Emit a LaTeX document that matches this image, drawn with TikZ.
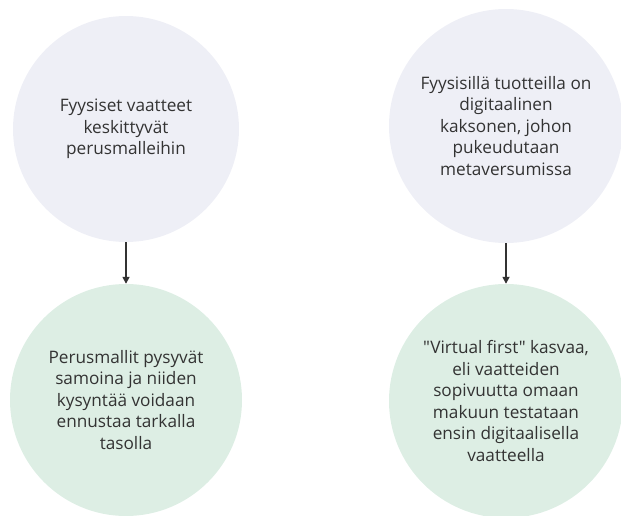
\documentclass[tikz,border=0pt]{standalone}
\usepackage{fontspec}
\setmainfont{Open Sans}[Ligatures=TeXOff]
\usepackage{tikz}
\usetikzlibrary{arrows.meta, positioning}

\definecolor{topfill}{HTML}{EEEFF6}
\definecolor{lowfill}{HTML}{DDEEE4}
\definecolor{inkgray}{HTML}{333333}

\begin{document}
\begin{tikzpicture}[x=1pt, y=-1pt,
    bubble/.style={circle, inner sep=0pt, align=center, text=inkgray,
                   font=\fontsize{17.2}{21.5}\selectfont},
    topbubble/.style={bubble, fill=topfill},
    lowbubble/.style={bubble, fill=lowfill},
    flow/.style={-{Triangle[length=7pt, width=7pt]}, line width=1.6pt, draw=inkgray}]
        \useasboundingbox (0,0) rectangle (621,516);

        % Left column
        \node[topbubble, minimum size=226pt] (fysiset) at (126,129)
            {Fyysiset vaatteet\\keskittyvät\\perusmalleihin};
        \node[lowbubble, minimum size=232pt] (perusmallit) at (126,400)
            {Perusmallit pysyvät\\samoina ja niiden\\kysyntää voidaan\\ennustaa tarkalla\\tasolla};
        \draw[flow] (fysiset) -- (perusmallit);

        % Right column
        \node[topbubble, minimum size=234pt] (kaksonen) at (506,126)
            {Fyysisillä tuotteilla on\\digitaalinen\\kaksonen, johon\\pukeudutaan\\metaversumissa};
        \node[lowbubble, minimum size=234pt] (virtual) at (506,401)
            {"Virtual first" kasvaa,\\eli vaatteiden\\sopivuutta omaan\\makuun testataan\\ensin digitaalisella\\vaatteella};
        \draw[flow] (kaksonen) -- (virtual);
    \end{tikzpicture}
\end{document}
